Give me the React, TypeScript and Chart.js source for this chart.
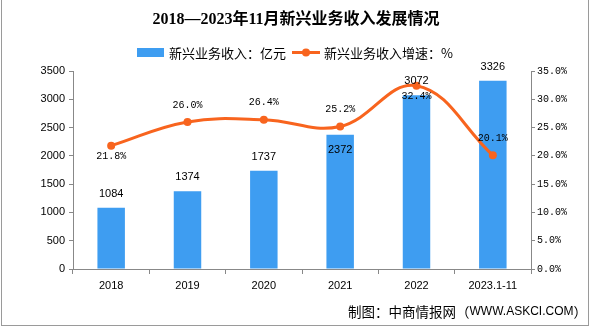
import React, { useEffect, useRef } from 'react';
import { Chart, registerables } from 'chart.js';

Chart.register(...registerables);

const titleText = '2018—2023年11月新兴业务收入发展情况';
const legendBar = '新兴业务收入：亿元';
const legendLine = '新兴业务收入增速：%';
const categories = ['2018', '2019', '2020', '2021', '2022', '2023.1-11'];
const revenue = [1084, 1374, 1737, 2372, 3072, 3326];
const growth = [21.8, 26.0, 26.4, 25.2, 32.4, 20.1];
const leftMax = 3500;
const leftStep = 500;
const rightMax = 35;
const rightStep = 5;
const revenueLabelPos = ['above', 'above', 'above', 'inside', 'above', 'above'];
const growthLabelPos = ['below', 'above', 'above', 'above', 'below', 'above'];

const BLUE = '#3E9DF1';
const ORANGE = '#F8641E';
const AXIS = '#888888';
const CJK = "'Noto Sans CJK SC'";

const decorPlugin = {
  id: 'decor',
  beforeDraw(chart: any) {
    const c = chart.ctx;
    c.save();
    c.fillStyle = '#ffffff';
    c.fillRect(0, 0, chart.width, chart.height);
    c.restore();
  },
  afterDatasetsDraw(chart: any) {
    const c = chart.ctx;
    c.save();
    c.fillStyle = '#000';
    c.textAlign = 'center';
    c.textBaseline = 'middle';
    const barMeta = chart.getDatasetMeta(1);
    c.font = "11px 'Liberation Sans'";
    barMeta.data.forEach((el: any, i: number) => {
      const y = revenueLabelPos[i] === 'inside' ? el.y + 15 : el.y - 14;
      c.fillText(String(revenue[i]), el.x, y);
    });
    const lineMeta = chart.getDatasetMeta(0);
    c.font = "10px 'Liberation Mono'";
    lineMeta.data.forEach((el: any, i: number) => {
      const y = growthLabelPos[i] === 'below' ? el.y + 11 : el.y - 17;
      c.fillText(growth[i].toFixed(1) + '%', el.x, y);
    });
    c.restore();
  },
  afterDraw(chart: any) {
    const c = chart.ctx;
    c.save();
    // title
    c.fillStyle = '#000';
    c.textAlign = 'center';
    c.textBaseline = 'middle';
    c.font = `bold 16px 'Liberation Serif', ${CJK}`;
    c.fillText(titleText, 296, 20);
    // legend
    c.fillStyle = BLUE;
    c.fillRect(137, 48, 27, 9);
    c.fillStyle = '#000';
    c.textAlign = 'left';
    c.font = `13px ${CJK}`;
    c.fillText(legendBar, 169, 53);
    c.strokeStyle = ORANGE;
    c.lineWidth = 3;
    c.beginPath();
    c.moveTo(292, 52.5);
    c.lineTo(320, 52.5);
    c.stroke();
    c.fillStyle = ORANGE;
    c.beginPath();
    c.arc(306, 52.5, 4, 0, Math.PI * 2);
    c.fill();
    c.fillStyle = '#000';
    c.fillText(legendLine, 324, 53);
    // footer
    let x = 348;
    c.font = `13.5px ${CJK}`;
    const p1 = '制图：中商情报网（';
    c.fillText(p1, x, 312);
    x += c.measureText(p1).width;
    c.font = "12px 'Liberation Sans Narrow', 'Liberation Sans'";
    const p2 = 'WWW.ASKCI.COM';
    c.fillText(p2, x, 312);
    x += c.measureText(p2).width;
    c.font = `13.5px ${CJK}`;
    c.fillText('）', x, 312);
    // frame
    c.strokeStyle = '#9a9a9a';
    c.lineWidth = 1;
    c.strokeRect(1.5, -1, 587, 326.5);
    c.restore();
  },
};

export default function App() {
  const ref = useRef<HTMLCanvasElement>(null);
  useEffect(() => {
    document.body.style.margin = '0';
    const canvas = ref.current!;
    const chart = new Chart(canvas, {
      type: 'bar',
      data: {
        labels: categories,
        datasets: [
          {
            type: 'line',
            label: legendLine,
            data: growth,
            yAxisID: 'y1',
            borderColor: ORANGE,
            backgroundColor: ORANGE,
            borderWidth: 3,
            pointRadius: 4,
            pointBorderWidth: 0,
            pointBackgroundColor: ORANGE,
            tension: 0.4,
          } as any,
          {
            type: 'bar',
            label: legendBar,
            data: revenue,
            yAxisID: 'y',
            backgroundColor: BLUE,
            categoryPercentage: 1,
            barPercentage: 0.36,
          },
        ],
      },
      options: {
        responsive: false,
        animation: false,
        devicePixelRatio: 1,
        layout: { padding: { top: 71, left: 0, right: 0, bottom: 0 } },
        plugins: {
          legend: { display: false },
          title: { display: false },
          tooltip: { enabled: false },
        },
        scales: {
          x: {
            offset: true,
            grid: { display: true, drawOnChartArea: false, drawTicks: true, tickLength: 5, color: AXIS, offset: true },
            border: { display: true, color: AXIS },
            ticks: { color: '#000', font: { family: "'Liberation Sans'", size: 11 }, padding: 5, maxRotation: 0, autoSkip: false },
            afterFit(scale: any) { scale.height = 58; },
          },
          y: {
            position: 'left',
            min: 0,
            max: leftMax,
            grid: { display: true, drawOnChartArea: false, drawTicks: true, tickLength: 4, color: AXIS },
            border: { display: true, color: AXIS },
            ticks: {
              stepSize: leftStep,
              color: '#000',
              font: { family: "'Liberation Sans'", size: 11 },
              padding: 4,
              callback: (v: any) => String(v),
            },
            afterFit(scale: any) { scale.width = 73; },
          },
          y1: {
            position: 'right',
            min: 0,
            max: rightMax,
            grid: { display: true, drawOnChartArea: false, drawTicks: true, tickLength: 4, color: AXIS },
            border: { display: true, color: AXIS },
            ticks: {
              stepSize: rightStep,
              color: '#000',
              font: { family: "'Liberation Mono'", size: 10 },
              padding: 2,
              callback: (v: any) => Number(v).toFixed(1) + '%',
            },
            afterFit(scale: any) { scale.width = 61; },
          },
        },
      },
      plugins: [decorPlugin],
    });
    return () => chart.destroy();
  }, []);
  return (
    <div style={{ width: 592, height: 327 }}>
      <canvas ref={ref} width={592} height={327} style={{ display: 'block' }} />
    </div>
  );
}
